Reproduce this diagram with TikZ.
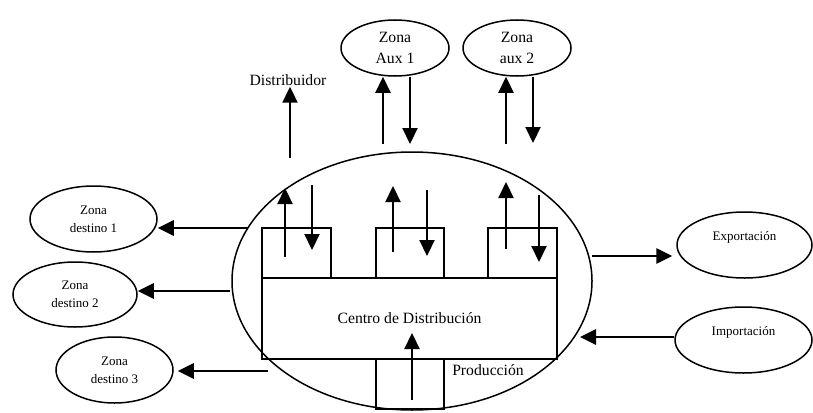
\documentclass[tikz,border=0pt]{standalone}
\usepackage{fontspec}
\setmainfont{Liberation Serif}
\usetikzlibrary{shapes.geometric,arrows.meta}

\tikzset{
  zona/.style={draw, ellipse, line width=1.5pt, inner sep=0pt, align=center,
    font=\fontsize{13}{18}\selectfont},
  zonaux/.style={zona, font=\fontsize{15.7}{21}\selectfont},
  caja/.style={draw, rectangle, line width=1.5pt, inner sep=0pt},
  rotulo/.style={inner sep=1pt, font=\fontsize{15.7}{21}\selectfont},
  flujo/.style={-{Triangle[length=16pt,width=15pt]}, line width=2.2pt},
  flujog/.style={flujo, line width=2.8pt},
}

\begin{document}
\begin{tikzpicture}[x=1pt,y=-1pt]
  \useasboundingbox (0,0) rectangle (813,412);

  % centro de distribucion
  \node[zona, minimum width=360pt, minimum height=258pt] (cen) at (412,281) {};
  \node[caja, minimum width=295pt, minimum height=81pt, rotulo] (cd) at (409.5,318.5) {Centro de Distribución};
  \node[caja, minimum width=69pt, minimum height=50pt] (b1) at (296.5,253) {};
  \node[caja, minimum width=68pt, minimum height=50pt] (b2) at (410,253) {};
  \node[caja, minimum width=69pt, minimum height=50pt] (b3) at (522.5,253) {};
  \node[caja, minimum width=68pt, minimum height=50pt] (pr) at (410,384) {};
  \node[rotulo] (prl) at (488,370) {Producción};

  % zonas
  \node[rotulo] (dist) at (288,80) {Distribuidor};
  \node[zonaux, minimum width=108pt, minimum height=56pt] (a1) at (395,48) {Zona\\Aux 1};
  \node[zonaux, minimum width=108pt, minimum height=56pt] (a2) at (517,48) {Zona\\aux 2};
  \node[zona, minimum width=127pt, minimum height=66pt] (d1) at (93.5,219) {Zona\\destino 1};
  \node[zona, minimum width=124pt, minimum height=65pt] (d2) at (75,294.5) {Zona\\destino 2};
  \node[zona, minimum width=117pt, minimum height=66pt] (d3) at (114.5,370) {Zona\\destino 3};
  \node[zona, minimum width=135pt, minimum height=66pt] (exp) at (744.5,245) {Exportación\\ \mbox{}};
  \node[zona, minimum width=137pt, minimum height=66pt] (imp) at (743.5,340) {Importación\\ \mbox{}};

  % extremos libres
  \coordinate (dt) at (290,158);
  \coordinate (a1u) at (383,144);
  \coordinate (a1d) at (410,144);
  \coordinate (a2u) at (506,144);
  \coordinate (a2d) at (533,143);
  \coordinate (d1s) at (248,228);
  \coordinate (d2s) at (230,291);
  \coordinate (d3s) at (268,371);
  \coordinate (exs) at (592,256);
  \coordinate (ims) at (580,337);

  % flechas de arriba
  \draw[flujo] (dt) -- (dt |- dist.south);
  \draw[flujo] (a1u) -- (a1u |- a1.south);
  \draw[flujo] (a1d |- a1.south) -- (a1d);
  \draw[flujo] (a2u) -- (a2u |- a2.south);
  \draw[flujo] (a2d |- a2.south) -- (a2d);

  % flechas en las cajas
  \draw[flujo] (285,257) -- (285,188);
  \draw[flujo] (312,185) -- (312,250);
  \draw[flujo] (393,252) -- (393,186);
  \draw[flujo] (427,190) -- (427,256);
  \draw[flujo] (506,249) -- (506,182);
  \draw[flujo] (539,195) -- (539,262);
  \draw[flujo] (412,400) -- (412,333);

  % salidas y entradas
  \draw[flujog] (d1s) -- (d1s -| d1.east);
  \draw[flujog] (d2s) -- (d2s -| d2.east);
  \draw[flujog] (d3s) -- ([xshift=4pt]d3s -| d3.east);
  \draw[flujog] (exs) -- ([xshift=-4pt]exs -| exp.west);
  \draw[flujog] (ims -| imp.west) -- (ims);
\end{tikzpicture}
\end{document}
